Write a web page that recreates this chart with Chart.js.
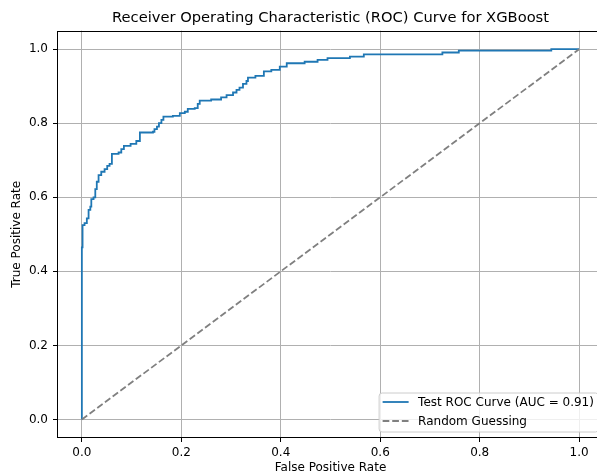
<!DOCTYPE html>
<html><head><meta charset="utf-8">
<script src="https://cdn.jsdelivr.net/npm/chart.js@4.4.1/dist/chart.umd.min.js"></script>
<style>html,body{margin:0;padding:0;overflow:hidden;background:#fff;width:597px;height:475px}canvas{display:block}</style>
</head><body><canvas id="c" width="661" height="475"></canvas>
<script>
const titleText = 'Receiver Operating Characteristic (ROC) Curve for XGBoost';
const xAxisLabel = 'False Positive Rate';
const yAxisLabel = 'True Positive Rate';
const rocLabel = 'Test ROC Curve (AUC = 0.91)';
const randomLabel = 'Random Guessing';
const tickValues = [0, 0.2, 0.4, 0.6, 0.8, 1.0];
const rocFpr = [0, 0, 0.0014, 0.0054, 0.010, 0.0135, 0.017, 0.019, 0.0235, 0.027, 0.030, 0.0336, 0.039, 0.0457, 0.051, 0.0557, 0.0604, 0.0738, 0.0793, 0.0845, 0.098, 0.1095, 0.1167, 0.143, 0.146, 0.151, 0.155, 0.160, 0.164, 0.183, 0.197, 0.207, 0.213, 0.227, 0.233, 0.237, 0.260, 0.280, 0.291, 0.304, 0.311, 0.317, 0.324, 0.331, 0.334, 0.349, 0.366, 0.381, 0.398, 0.412, 0.448, 0.474, 0.494, 0.539, 0.567, 0.725, 0.758, 0.944, 1.0];
const rocTpr = [0, 0.465, 0.525, 0.530, 0.543, 0.566, 0.575, 0.595, 0.600, 0.622, 0.642, 0.660, 0.669, 0.676, 0.685, 0.690, 0.717, 0.721, 0.730, 0.739, 0.744, 0.752, 0.775, 0.777, 0.784, 0.791, 0.800, 0.809, 0.818, 0.820, 0.827, 0.831, 0.839, 0.841, 0.852, 0.861, 0.864, 0.870, 0.876, 0.883, 0.890, 0.896, 0.906, 0.914, 0.923, 0.928, 0.940, 0.944, 0.953, 0.962, 0.966, 0.971, 0.976, 0.980, 0.986, 0.991, 0.996, 1.0, 1.0];
const randomFpr = [0, 1];
const randomTpr = [0, 1];

const FONT = "'DejaVu Sans', sans-serif";
const rocPoints = rocFpr.map((x, i) => ({x: x, y: rocTpr[i]}));
const randomPoints = randomFpr.map((x, i) => ({x: x, y: randomTpr[i]}));

const framePlugin = {
  id: 'frame',
  afterDatasetsDraw(chart) {
    const {ctx, chartArea: a} = chart;
    ctx.save();
    ctx.strokeStyle = '#000';
    ctx.lineWidth = 1;
    const l = Math.round(a.left) + 0.5, r = Math.round(a.right) - 0.5;
    const t = Math.round(a.top) + 0.5, b = Math.round(a.bottom) - 0.5;
    ctx.strokeRect(l, t, r - l, b - t);
    ctx.restore();
  }
};

const legendPlugin = {
  id: 'mplLegend',
  afterDraw(chart) {
    const {ctx, chartArea: a} = chart;
    const ds = chart.data.datasets;
    ctx.save();
    ctx.font = "12px " + FONT;
    let maxW = 0;
    ds.forEach(d => { maxW = Math.max(maxW, ctx.measureText(d.label).width); });
    const right = a.right - 6, bottom = a.bottom - 6.5;
    const width = 4.8 + 24 + 10 + maxW + 4.8;
    const left = right - width;
    const rowH = 19;
    const height = 39;
    const top = bottom - height;
    ctx.beginPath();
    ctx.roundRect(left + 0.5, top + 0.5, width, height, 3);
    ctx.fillStyle = 'rgba(255,255,255,0.8)';
    ctx.fill();
    ctx.strokeStyle = '#cccccc';
    ctx.lineWidth = 1;
    ctx.stroke();
    ds.forEach((d, i) => {
      const cy = top + 9.5 + i * rowH;
      ctx.beginPath();
      ctx.setLineDash(d.borderDash || []);
      ctx.strokeStyle = d.borderColor;
      ctx.lineWidth = d.borderWidth;
      ctx.moveTo(left + 4, cy);
      ctx.lineTo(left + 4 + 26, cy);
      ctx.stroke();
      ctx.setLineDash([]);
      ctx.fillStyle = '#000';
      ctx.textBaseline = 'middle';
      ctx.textAlign = 'left';
      ctx.fillText(d.label, left + 39.5, cy + 0.5);
    });
    ctx.restore();
  }
};

function axisOpts(label, isX) {
  return {
    type: 'linear',
    min: -0.05,
    max: 1.05,
    afterBuildTicks: s => { s.ticks = tickValues.map(v => ({value: v})); },
    afterFit: s => { if (isX) s.height = 37; else s.width = 57; },
    ticks: {
      callback: v => Number(v).toFixed(1),
      font: {family: FONT, size: 12},
      color: '#000',
      padding: isX ? 4 : 5,
      autoSkip: false,
      maxRotation: 0
    },
    grid: {
      color: '#b0b0b0',
      lineWidth: 1,
      drawTicks: true,
      tickColor: '#000',
      tickLength: 4,
      tickWidth: 1
    },
    border: {display: false},
    title: {
      display: true,
      text: label,
      font: {family: FONT, size: 12},
      color: '#000',
      padding: isX ? {top: 0, bottom: 0} : {top: 10, bottom: 0}
    }
  };
}

new Chart(document.getElementById('c'), {
  type: 'scatter',
  data: {
    datasets: [
      {
        label: rocLabel,
        data: rocPoints,
        showLine: true,
        stepped: 'before',
        borderColor: '#1f77b4',
        backgroundColor: '#1f77b4',
        borderWidth: 1.8,
        pointRadius: 0,
        fill: false,
        order: 1
      },
      {
        label: randomLabel,
        data: randomPoints,
        showLine: true,
        borderColor: '#808080',
        backgroundColor: '#808080',
        borderWidth: 1.8,
        borderDash: [6.7, 2.9],
        pointRadius: 0,
        fill: false,
        order: 0
      }
    ]
  },
  options: {
    responsive: false,
    animation: false,
    devicePixelRatio: 1,
    layout: {padding: {left: 0, right: 0, top: 0, bottom: 0}},
    scales: {
      x: axisOpts(xAxisLabel, true),
      y: axisOpts(yAxisLabel, false),
      yRightSpacer: {
        type: 'linear',
        position: 'right',
        display: true,
        min: 0,
        max: 1,
        afterFit: s => { s.width = 57; },
        ticks: {display: false},
        grid: {display: false, drawTicks: false},
        border: {display: false},
        title: {display: false}
      }
    },
    plugins: {
      legend: {display: false},
      tooltip: {enabled: false},
      title: {
        display: true,
        text: titleText,
        font: {family: FONT, size: 14.7, weight: 'normal', lineHeight: 1.2},
        color: '#000',
        padding: {top: 9, bottom: 4}
      }
    }
  },
  plugins: [framePlugin, legendPlugin]
});
</script>
</body></html>
